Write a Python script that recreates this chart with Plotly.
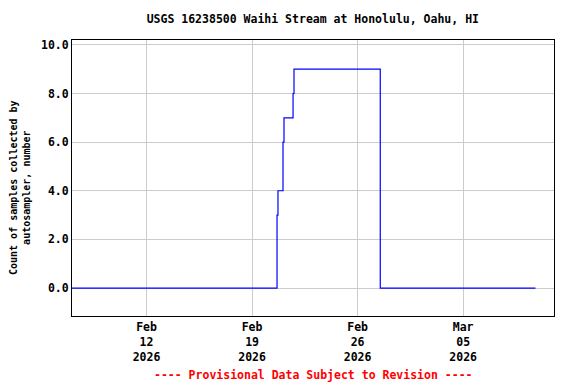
import plotly.graph_objects as go

# Data (step series: count of samples collected by autosampler)
times = [
    "2026-02-07 01:20", "2026-02-20 15:45", "2026-02-20 17:15",
    "2026-02-21 01:15", "2026-02-21 02:50", "2026-02-21 17:15",
    "2026-02-21 18:45", "2026-02-27 12:05", "2026-03-09 19:10",
]
counts = [0, 3, 4, 6, 7, 8, 9, 0, 0]

tick_vals = ["2026-02-12", "2026-02-19", "2026-02-26", "2026-03-05"]
tick_text = ["Feb<br>12<br>2026", "Feb<br>19<br>2026", "Feb<br>26<br>2026", "Mar<br>05<br>2026"]
y_ticks = [0, 2, 4, 6, 8, 10]
y_tick_text = ["0.0", "2.0", "4.0", "6.0", "8.0", "10.0"]

FONT = "DejaVu Sans Mono"

fig = go.Figure()
fig.add_trace(go.Scatter(
    x=times, y=counts, mode="lines",
    line=dict(color="#0000ff", width=1.2, shape="hv"),
    hoverinfo="skip", showlegend=False,
))

fig.update_layout(
    width=576, height=384,
    margin=dict(l=72, r=22, t=40, b=68),
    paper_bgcolor="white", plot_bgcolor="white",
    font=dict(family=FONT, size=11.5, color="black", weight="bold"),
    title=dict(
        text="USGS 16238500 Waihi Stream at Honolulu, Oahu, HI",
        x=0.5431, xanchor="center", xref="container",
        y=1 - 19 / 384, yanchor="middle", yref="container",
        font=dict(family=FONT, size=11.5, color="black", weight="bold"),
    ),
    xaxis=dict(
        type="date",
        range=["2026-02-07 01:20", "2026-03-11 00:40"],
        tickvals=tick_vals, ticktext=tick_text,
        showgrid=True, gridcolor="#cccccc", gridwidth=1,
        showline=True, linecolor="black", linewidth=1, mirror=True,
        ticks="", zeroline=False,
        tickfont=dict(family=FONT, size=11.5, color="black", weight="bold"),
    ),
    yaxis=dict(
        range=[-1.15, 10.2],
        tickvals=y_ticks, ticktext=y_tick_text,
        showgrid=True, gridcolor="#cccccc", gridwidth=1,
        showline=True, linecolor="black", linewidth=1, mirror=True,
        ticks="", zeroline=False,
        tickfont=dict(family=FONT, size=11.5, color="black", weight="bold"),
    ),
)

fig.add_annotation(
    text="Count of samples collected by<br>autosampler, number",
    xref="paper", yref="paper", x=0, y=0.5,
    xshift=-52, yshift=-10, xanchor="center", yanchor="middle",
    textangle=-90, showarrow=False,
    font=dict(family=FONT, size=10, color="black", weight="bold"),
)

fig.add_annotation(
    text="---- Provisional Data Subject to Revision ----",
    xref="paper", yref="paper", x=0.5, y=-(375 - 316) / 276,
    xanchor="center", yanchor="middle", showarrow=False,
    font=dict(family=FONT, size=11.5, color="red", weight="bold"),
)

fig.write_html("out.html")
